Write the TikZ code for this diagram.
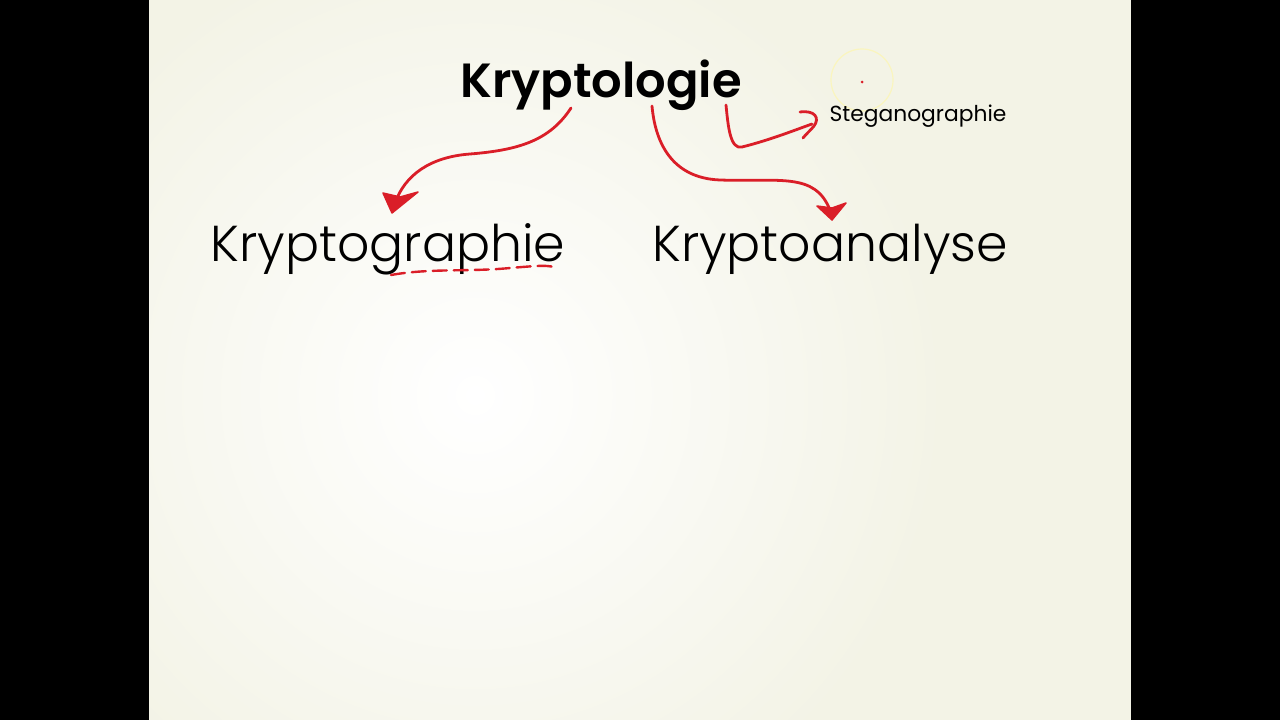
\documentclass[tikz,border=0pt]{standalone}
\usepackage{fontspec}
\setmainfont{Poppins}
\newfontfamily\lightfont{Poppins Light}
\newfontfamily\boldfont{Poppins SemiBold}
\definecolor{cream}{RGB}{243,243,230}
\definecolor{pen}{RGB}{218,30,40}
\definecolor{halo}{RGB}{250,245,190}
\begin{document}
\begin{tikzpicture}[x=1pt,y=-1pt,
  title/.style={font=\boldfont\fontsize{48}{52}\selectfont, inner sep=0pt, anchor=base},
  big/.style={font=\lightfont\fontsize{50.5}{54}\selectfont, inner sep=0pt, anchor=base},
  small/.style={font=\fontsize{21.8}{24}\selectfont, inner sep=0pt, anchor=base},
  ink/.style={draw=pen, line width=2.8pt, line cap=round, line join=round},
  blob/.style={fill=pen, draw=pen, line width=1.5pt, line join=round}]
\useasboundingbox (0,0) rectangle (1280,720);
\fill[black] (0,0) rectangle (1280,720);
\fill[cream] (149,0) rectangle (1131,720);
\begin{scope}
\clip (149,0) rectangle (1131,720);
\shade[inner color=white, outer color=cream] (475,395) circle (470);
\end{scope}
% cursor halo
\draw[halo, line width=1.2pt] (862,80) circle (31);
\fill[pen] (862,82) circle (1.5);
% texts
\node[title] (kl) at (601,97) {Kryptologie};
\node[big] (kg) at (388,261) {Kryptographie};
\node[big] (ka) at (830,261) {Kryptoanalyse};
\node[small] (st) at (918,121) {Steganographie};
% arrow starts
\coordinate (s1) at ([xshift=-30pt,yshift=-11pt]kl.base);
\coordinate (s2) at ([xshift=51pt,yshift=-9pt]kl.base);
\coordinate (s3) at ([xshift=125pt,yshift=-8pt]kl.base);
% arrow to Kryptographie
\draw[ink] (s1) .. controls (550,140) and (520,150) .. (470,154)
  .. controls (430,157) and (405,175) .. (395,203);
\fill[blob] (383,193) -- (392,213) -- (418,192) -- (400,197) -- cycle;
% arrow to Kryptoanalyse
\draw[ink] (s2) .. controls (655,140) and (670,178) .. (720,180)
  .. controls (780,182) and (815,172) .. (830,210);
\fill[blob] (817,206) -- (832,220) -- (846,203) -- (832,208) -- cycle;
% arrow to Steganographie
\draw[ink] (s3) .. controls (728,125) and (730,150) .. (742,147)
  .. controls (770,140) and (795,130) .. (812,124);
\draw[ink] (800,112) .. controls (815,110) and (820,118) .. (814,126)
  .. controls (810,131) and (806,134) .. (803,138);
% dashed underline
\draw[ink, line width=2.4pt, dash pattern=on 14pt off 7pt] (391,275)
  .. controls (430,268) and (470,272) .. (510,268)
  .. controls (535,266) and (552,264) .. (557,269);
\end{tikzpicture}
\end{document}
